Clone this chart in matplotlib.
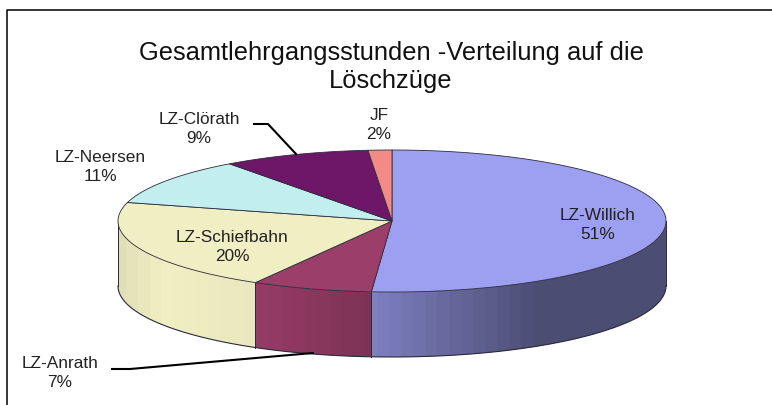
#!/usr/bin/env python3
import numpy as np
import matplotlib
matplotlib.use("Agg")
import matplotlib.pyplot as plt
from matplotlib.patches import Polygon

plt.rcParams["font.family"] = ["Liberation Sans", "DejaVu Sans"]

labels = ["LZ-Willich", "LZ-Anrath", "LZ-Schiefbahn", "LZ-Neersen", "LZ-Clörath", "JF"]
# percentages as printed on the chart
shares = [51, 7, 20, 11, 9, 2]
slice_sizes = [51.2, 7.1, 20.9, 10.7, 8.7, 1.4]
title = "Gesamtlehrgangsstunden -Verteilung auf die\nLöschzüge"

colors = ["#9da0f0", "#9b3e6a", "#f0eec3", "#c3eef0", "#6e1768", "#f28a85"]
label_pos = [(598, 225), (60, 373), (232, 247), (100, 167), (199, 129), (379, 125)]

# pie geometry in image pixels
CX, CY = 392, 221
RX, RY = 274, 71
DEPTH = 65
EDGE = "#2b2b3a"

# brightness of the rim from left to right
shade_x = [118, 165, 255, 372, 540, 666]
shade_v = [0.93, 1.0, 0.97, 0.80, 0.48, 0.48]


def rim(theta, drop=0):
    """theta in degrees, clockwise from twelve o'clock."""
    t = np.radians(theta)
    return CX + RX * np.sin(t), CY - RY * np.cos(t) + drop


def draw_side(ax, start, end, color):
    # only the front half of the cylinder is visible
    a, b = max(start, 90), min(end, 270)
    if a >= b:
        return
    base = np.array(matplotlib.colors.to_rgb(color))
    ts = np.linspace(a, b, int(b - a) * 4 + 2)
    x, y = rim(ts)
    bands = np.round(x / 12).astype(int)
    # draw from the right, every band runs on under the next one to hide the seam
    for band in np.unique(bands)[::-1]:
        idx = np.where(bands == band)[0]
        last = min(idx[-1] + 12, len(ts) - 1)
        xs, ys = x[idx[0]:last + 1], y[idx[0]:last + 1]
        c = np.clip(base * np.interp(band * 12, shade_x, shade_v), 0, 1)
        pts = np.r_[np.c_[xs, ys], np.c_[xs, ys + DEPTH][::-1]]
        ax.add_patch(Polygon(pts, closed=True, fc=c, ec="none", zorder=2))
    ax.plot(x, y + DEPTH, color=EDGE, lw=0.8, zorder=3)
    for t in (a, b):
        x0, y0 = rim(t)
        ax.plot([x0, x0], [y0, y0 + DEPTH], color=EDGE, lw=0.7, zorder=3)


def draw_top(ax, start, end, color):
    ts = np.linspace(start, end, max(int(end - start) * 2, 4))
    x, y = rim(ts)
    pts = np.r_[[[CX, CY]], np.c_[x, y]]
    ax.add_patch(Polygon(pts, closed=True, fc=color, ec=EDGE, lw=0.6, zorder=4))


fig = plt.figure(figsize=(7.72, 4.05), dpi=100)
ax = fig.add_axes([0, 0, 1, 1])
ax.set_xlim(0, 772)
ax.set_ylim(405, 0)
ax.axis("off")

# chart frame, cut off by the picture on the right and at the bottom
ax.plot([7, 7, 772], [405, 10, 10], color="black", lw=1.1, zorder=1)

bounds = np.r_[0, np.cumsum(slice_sizes)] * 360.0 / sum(slice_sizes)
for i, c in enumerate(colors):
    draw_side(ax, bounds[i], bounds[i + 1], c)
for i, c in enumerate(colors):
    draw_top(ax, bounds[i], bounds[i + 1], c)

ax.text(391, 67, title, ha="center", va="center", fontsize=18.4,
        linespacing=1.22, color="#111111", zorder=6)

for name, share, (x, y) in zip(labels, shares, label_pos):
    ax.text(x, y, f"{name}\n{share}%", ha="center", va="center", fontsize=12.4,
            linespacing=1.28, color="#222222", zorder=6)

# leader lines
ax.plot([254, 268, 296], [124, 124, 154], color="black", lw=1.5, zorder=5)
ax.plot([112, 130, 313], [369, 369, 353], color="black", lw=1.5, zorder=5)

fig.savefig("out.png", dpi=100)
